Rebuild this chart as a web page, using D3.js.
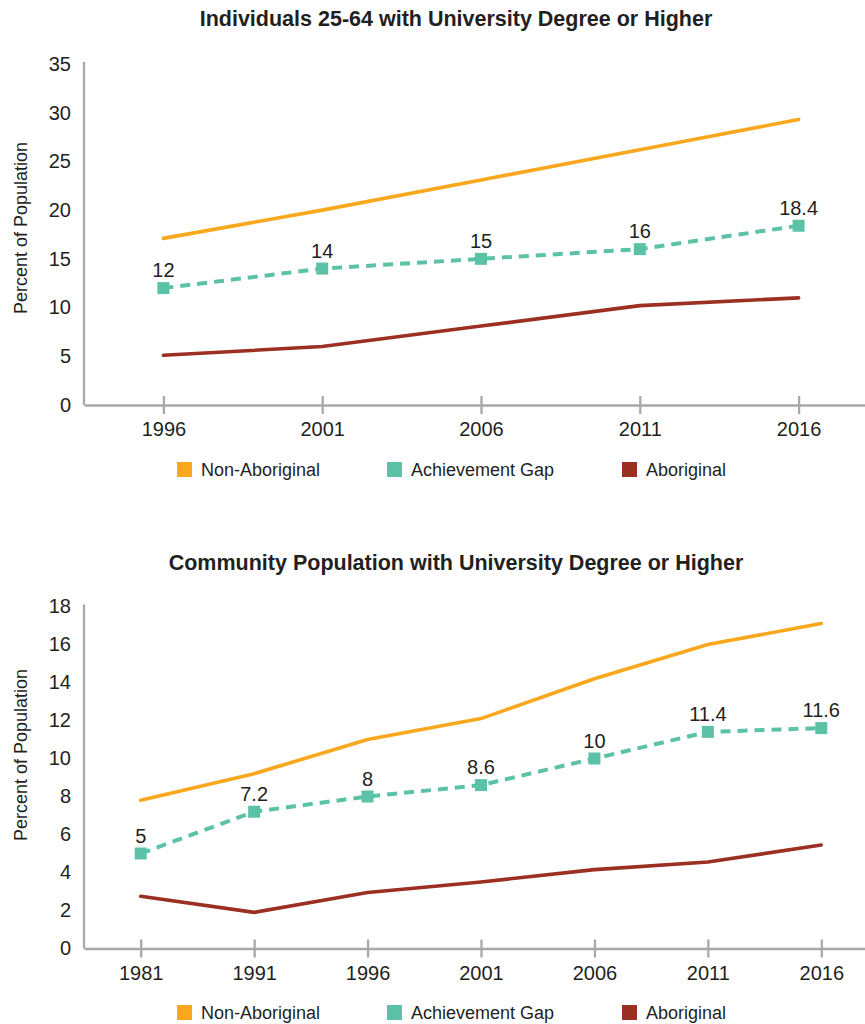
<!DOCTYPE html>
<html>
<head>
<meta charset="utf-8">
<script src="https://cdn.jsdelivr.net/npm/d3@7/dist/d3.min.js"></script>
<style>
  html, body { margin: 0; padding: 0; background: #ffffff; }
  svg { display: block; }
  text { font-family: "Liberation Sans", Arial, sans-serif; fill: #231F20; }
  .title { font-family: "Liberation Sans Narrow", "Liberation Sans", Arial, sans-serif; font-weight: bold; }
</style>
</head>
<body>
<svg id="chart" width="865" height="1024"></svg>
<script>
// ---------- Data ----------
const seriesNames = ["Non-Aboriginal", "Achievement Gap", "Aboriginal"];

// Chart 1: Individuals 25-64 with University Degree or Higher
const title1 = "Individuals 25-64 with University Degree or Higher";
const years1 = ["1996", "2001", "2006", "2011", "2016"];
const nonAboriginal1 = [17.1, 20.0, 23.1, 26.2, 29.3];
const gap1 = [12, 14, 15, 16, 18.4];
const aboriginal1 = [5.1, 6.0, 8.1, 10.2, 11.0];
const yTicks1 = [0, 5, 10, 15, 20, 25, 30, 35];

// Chart 2: Community Population with University Degree or Higher
const title2 = "Community Population with University Degree or Higher";
const years2 = ["1981", "1991", "1996", "2001", "2006", "2011", "2016"];
const nonAboriginal2 = [7.8, 9.2, 11.0, 12.1, 14.2, 16.0, 17.1];
const gap2 = [5, 7.2, 8, 8.6, 10, 11.4, 11.6];
const aboriginal2 = [2.75, 1.9, 2.95, 3.5, 4.15, 4.55, 5.45];
const yTicks2 = [0, 2, 4, 6, 8, 10, 12, 14, 16, 18];

const yAxisLabel = "Percent of Population";

// ---------- Styles ----------
const colors = { "Non-Aboriginal": "#F9A71D", "Achievement Gap": "#5BC2A8", "Aboriginal": "#9B2F22" };
const axisColor = "#A6A8AB";

const svg = d3.select("#chart");

function drawChart(cfg) {
  const g = svg.append("g");
  const x = d3.scalePoint().domain(cfg.years).range([84, 878]).padding(0.5);
  const y = d3.scaleLinear().domain([0, cfg.yMax]).range([cfg.yBottom, cfg.yTop]);

  // Title
  g.append("text").attr("class", "title")
    .attr("x", 456).attr("y", cfg.titleY)
    .attr("text-anchor", "middle").style("font-size", "21.5px")
    .text(cfg.title);

  // Y axis label
  g.append("text")
    .attr("transform", `translate(27,${cfg.yLabelY}) rotate(-90)`)
    .attr("text-anchor", "middle").style("font-size", "18px")
    .text(yAxisLabel);

  // Y axis
  const yAxis = g.append("g").attr("transform", "translate(84,0)")
    .call(d3.axisLeft(y).tickValues(cfg.yTicks).tickSize(0).tickPadding(13).tickFormat(d3.format("d")));
  yAxis.select(".domain").remove();
  yAxis.selectAll("text").style("font-size", "20px").style("font-family", "'Liberation Sans', Arial, sans-serif").attr("fill", "#231F20");
  g.append("line").attr("x1", 84).attr("x2", 84).attr("y1", cfg.yBottom).attr("y2", cfg.yTop - 2)
    .attr("stroke", axisColor).attr("stroke-width", 2.3);

  // X axis
  const xAxis = g.append("g").attr("transform", `translate(0,${cfg.yBottom})`)
    .call(d3.axisBottom(x).tickSizeOuter(0).tickSizeInner(9).tickPadding(8));
  xAxis.select(".domain").attr("stroke", axisColor).attr("stroke-width", 2.3);
  xAxis.selectAll(".tick line").attr("y1", -9).attr("y2", 9).attr("stroke", axisColor).attr("stroke-width", 2.3);
  xAxis.selectAll("text").style("font-size", "20px").style("font-family", "'Liberation Sans', Arial, sans-serif").attr("fill", "#231F20");

  const line = d3.line().x((d, i) => x(cfg.years[i])).y(d => y(d));

  // Non-Aboriginal
  g.append("path").datum(cfg.non).attr("d", line).attr("fill", "none")
    .attr("stroke", colors["Non-Aboriginal"]).attr("stroke-width", 3.6).attr("stroke-linecap", "round");
  // Aboriginal
  g.append("path").datum(cfg.ab).attr("d", line).attr("fill", "none")
    .attr("stroke", colors["Aboriginal"]).attr("stroke-width", 3.6).attr("stroke-linecap", "round");
  // Achievement gap dashed
  g.append("path").datum(cfg.gap).attr("d", line).attr("fill", "none")
    .attr("stroke", colors["Achievement Gap"]).attr("stroke-width", 4).attr("stroke-dasharray", "10,7");
  g.selectAll(".marker").data(cfg.gap).join("rect")
    .attr("x", (d, i) => x(cfg.years[i]) - 6).attr("y", d => y(d) - 6)
    .attr("width", 12).attr("height", 12).attr("fill", colors["Achievement Gap"]);
  g.selectAll(".lbl").data(cfg.gap).join("text")
    .attr("x", (d, i) => x(cfg.years[i])).attr("y", d => y(d) - 11)
    .attr("text-anchor", "middle").style("font-size", "20px")
    .text(d => d);

  // Legend
  const legendX = [177, 387, 622];
  const lg = g.append("g").attr("transform", `translate(0,${cfg.legendY})`);
  seriesNames.forEach((s, i) => {
    lg.append("rect").attr("x", legendX[i]).attr("y", -7).attr("width", 15).attr("height", 15).attr("fill", colors[s]);
    lg.append("text").attr("x", legendX[i] + 24).attr("y", 6.5).style("font-size", "18px").text(s);
  });
}

drawChart({ title: title1, years: years1, non: nonAboriginal1, gap: gap1, ab: aboriginal1, yTicks: yTicks1,
  yMax: 35, yBottom: 405, yTop: 64, titleY: 26, yLabelY: 228, legendY: 469 });
drawChart({ title: title2, years: years2, non: nonAboriginal2, gap: gap2, ab: aboriginal2, yTicks: yTicks2,
  yMax: 18, yBottom: 948.5, yTop: 606.5, titleY: 570, yLabelY: 755, legendY: 1012 });
</script>
</body>
</html>
